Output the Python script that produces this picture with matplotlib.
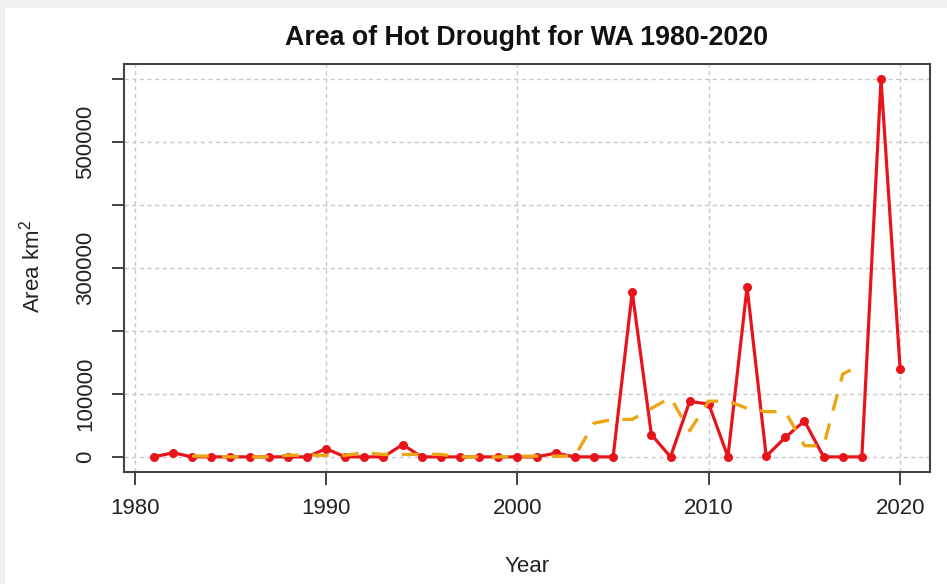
import matplotlib
matplotlib.use("Agg")
import matplotlib.pyplot as plt
from matplotlib.patches import Rectangle

plt.rcParams['font.family'] = ['Liberation Sans', 'DejaVu Sans']
plt.rcParams['mathtext.fontset'] = 'custom'
plt.rcParams['mathtext.rm'] = 'Liberation Sans'
plt.rcParams['mathtext.it'] = 'Liberation Sans:italic'

# ---- data ----
years = list(range(1981, 2021))
area = [0, 6500, 0, 0, 0, 0, 0, 0, 0, 13000,
        0, 0, 0, 19500, 0, 0, 0, 0, 0, 0,
        0, 6000, 0, 0, 0, 262000, 35500, 0, 88000, 84000,
        0, 270000, 1000, 31000, 57000, 0, 0, 0, 600000, 139000]

trend_years = list(range(1983, 2019))
trend = [1300, 1300, 0, 0, 0, 2600, 2600, 2600, 2600, 6500,
         3900, 3900, 3900, 3900, 0, 0, 0, 1200, 1200, 1200,
         1200, 53600, 59500, 59500, 77100, 93900, 41500, 88400, 88600, 77200,
         71800, 71800, 17800, 17600, 131400, 147800]

x_ticks = [1980, 1990, 2000, 2010, 2020]
y_ticks = [0, 100000, 200000, 300000, 400000, 500000, 600000]
y_tick_labels = ['0', '100000', '', '300000', '', '500000', '']

title = 'Area of Hot Drought for WA 1980-2020'
xlabel = 'Year'
ylabel = 'Area km$^2$'

# ---- figure ----
W, H = 947, 584
fig = plt.figure(figsize=(W / 100, H / 100), dpi=100)
fig.patch.set_facecolor('white')

# faint screenshot border
fig.patches.append(Rectangle((0, 1 - 8 / H), 1, 8 / H, transform=fig.transFigure,
                             facecolor='#f0f0f0', edgecolor='none', zorder=-10))
fig.patches.append(Rectangle((0, 0), 5 / W, 1, transform=fig.transFigure,
                             facecolor='#f0f0f0', edgecolor='none', zorder=-10))

left, right, top, bottom = 124, 930, 64, 472
ax = fig.add_axes([left / W, 1 - bottom / H, (right - left) / W, (bottom - top) / H])

ax.set_xlim(1979.44, 2021.56)
ax.set_ylim(-24000, 624000)

# grid
for xv in x_ticks:
    ax.axvline(xv, color='#c8c8c8', lw=1.0, ls=(0, (3, 2.5)), zorder=1)
for yv in y_ticks:
    ax.axhline(yv, color='#c8c8c8', lw=1.0, ls=(0, (3, 2.5)), zorder=1)

ax.plot(years, area, color='#e8141c', lw=2.3, marker='o', ms=6.5,
        markeredgewidth=0, zorder=3)
ax.plot(trend_years, trend, color='#eca515', lw=2.4, ls=(0, (5, 4)), zorder=4)

ax.set_xticks(x_ticks)
ax.set_xticklabels([str(v) for v in x_ticks])
ax.set_yticks(y_ticks)
ax.set_yticklabels(y_tick_labels, rotation=90, va='center')

ax.tick_params(axis='both', direction='out', length=9, width=1.3, color='#333333',
               labelsize=16, labelcolor='#222222')
ax.tick_params(axis='x', pad=10)
ax.tick_params(axis='y', pad=11)

for sp in ax.spines.values():
    sp.set_color('#444444')
    sp.set_linewidth(1.5)

fig.text(527 / W, 1 - 45 / H, title, ha='center', va='baseline',
         fontsize=19.3, fontweight='bold', color='#111111')
fig.text(527 / W, 1 - 567 / H, xlabel, ha='center', va='center',
         fontsize=16, color='#222222')
fig.text(32 / W, 1 - 267 / H, ylabel, ha='center', va='center', rotation=90,
         fontsize=16, color='#222222')

fig.savefig('out.png', dpi=100)
